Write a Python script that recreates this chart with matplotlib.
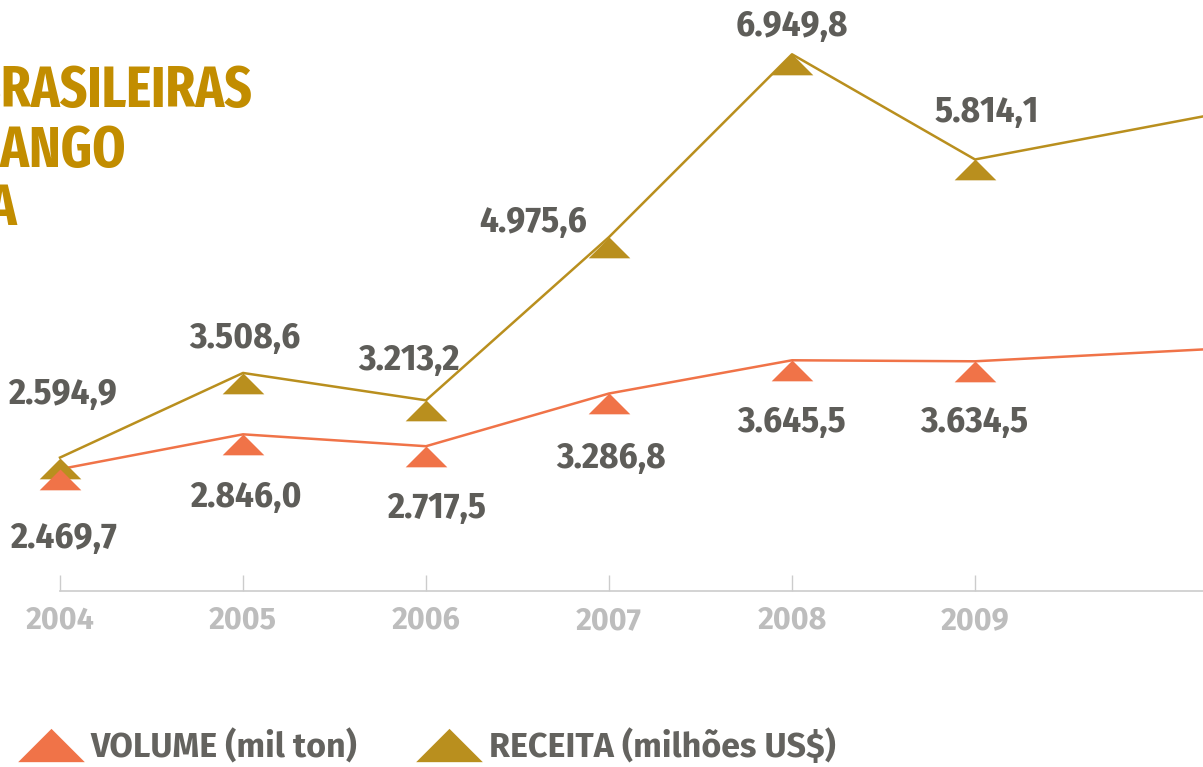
import matplotlib
matplotlib.use("Agg")
import matplotlib.pyplot as plt
from matplotlib.path import Path
from matplotlib.lines import Line2D

# exportacoes brasileiras de frango - volume e receita
years = [2004, 2005, 2006, 2007, 2008, 2009]
volume = [2469.7, 2846.0, 2717.5, 3286.8, 3645.5, 3634.5]     # mil ton
receita = [2594.9, 3508.6, 3213.2, 4975.6, 6949.8, 5814.1]    # milhoes US$

# the lines keep going past the right edge of the crop (estimated from the slope)
next_year = 2011
volume_next = 3840
receita_next = 6560

tick_years = years
title_lines = ["EXPORTAÇÕES BRASILEIRAS", "DE CARNE DE FRANGO", "IN NATURA"]
legend_labels = ["VOLUME (mil ton)", "RECEITA (milhões US$)"]

ORANGE = "#f07348"
GOLD = "#b98f1e"
TITLE_GOLD = "#c28d00"
TXT = "#5e5d59"
FIRA = ["Fira Sans", "Open Sans", "DejaVu Sans"]
COND = ["Fira Sans Condensed", "Open Sans Condensed", "IBM Plex Sans Condensed", "DejaVu Sans"]
XCOND = ["Fira Sans Extra Condensed", "Fira Sans Condensed", "Open Sans Condensed", "DejaVu Sans"]

# label offsets in pixels (dx, dy) relative to each point
rec_off = [(3, 54), (2, 25), (-17, 30), (-76, 5), (0, 18), (12, 37)]
vol_off = [(4, -79), (3, -73), (11, -72), (2, -75), (0, -72), (-1, -71)]


def fmt_br(v):
    s = f"{v:,.1f}"
    return s.replace(",", "X").replace(".", ",").replace("X", ".")


W, H = 1203, 767
fig = plt.figure(figsize=(W / 100, H / 100), dpi=100)
fig.patch.set_facecolor("white")
ax = fig.add_axes([0, 176 / H, 1, 591 / H])
x0 = 2004 - 60 / 183
x1 = 2004 + (W - 60) / 183
ax.set_xlim(x0, x1)
ax.set_ylim(1154, 7536)

# apex of the triangle sits on the data point
apex = Path([(0, 0), (-1, -1), (1, -1), (0, 0)],
            [Path.MOVETO, Path.LINETO, Path.LINETO, Path.CLOSEPOLY])
centered = Path([(0, 0.5), (-1, -0.5), (1, -0.5), (0, 0.5)],
                [Path.MOVETO, Path.LINETO, Path.LINETO, Path.CLOSEPOLY])

for vals, nxt, col in [(receita, receita_next, GOLD), (volume, volume_next, ORANGE)]:
    ax.plot(years + [next_year], vals + [nxt], color=col, lw=1.8, zorder=2)
    ax.plot(years, vals, linestyle="none", marker=apex, ms=30, mew=0,
            color=col, clip_on=False, zorder=3)

for vals, offs in [(receita, rec_off), (volume, vol_off)]:
    for yr, v, (dx, dy) in zip(years, vals, offs):
        ax.annotate(fmt_br(v), (yr, v), xytext=(dx, dy), textcoords="offset pixels",
                    ha="center", va="baseline", fontsize=26.5, fontweight="bold",
                    color=TXT, family=COND, annotation_clip=False)

for s in ["top", "left", "right"]:
    ax.spines[s].set_visible(False)
ax.spines["bottom"].set_bounds(2004, x1)
ax.spines["bottom"].set_color("#cccccc")
ax.spines["bottom"].set_linewidth(1.2)
ax.set_yticks([])
ax.set_xticks(tick_years)
ax.set_xticklabels([str(y) for y in tick_years], fontsize=22, fontweight="bold",
                   family=FIRA, color="#bdbdbd")
ax.tick_params(axis="x", direction="in", length=11.5, width=1, color="#cccccc", pad=10.5)
ax.set_facecolor("none")

# title (cut by the left edge of the crop)
ends = [252, 126, 17]
bases = [107, 167, 225]
for line, xe, yb in zip(title_lines, ends, bases):
    fig.text(xe / W, 1 - yb / H, line, ha="right", va="baseline", fontsize=41.5,
             fontweight="bold", color=TITLE_GOLD, family=XCOND)

handles = [Line2D([], [], linestyle="none", marker=centered, ms=48, mew=0, color=ORANGE),
           Line2D([], [], linestyle="none", marker=centered, ms=48, mew=0, color=GOLD)]
fig.legend(handles, legend_labels, loc="lower left", bbox_to_anchor=(17 / W, 2 / H),
           ncol=2, frameon=False, handlelength=2.0, handletextpad=0.15,
           columnspacing=1.72, borderpad=0, borderaxespad=0, labelcolor="#64635f",
           prop={"family": FIRA, "weight": "bold", "size": 24.5})

fig.savefig("out.png", dpi=100)
